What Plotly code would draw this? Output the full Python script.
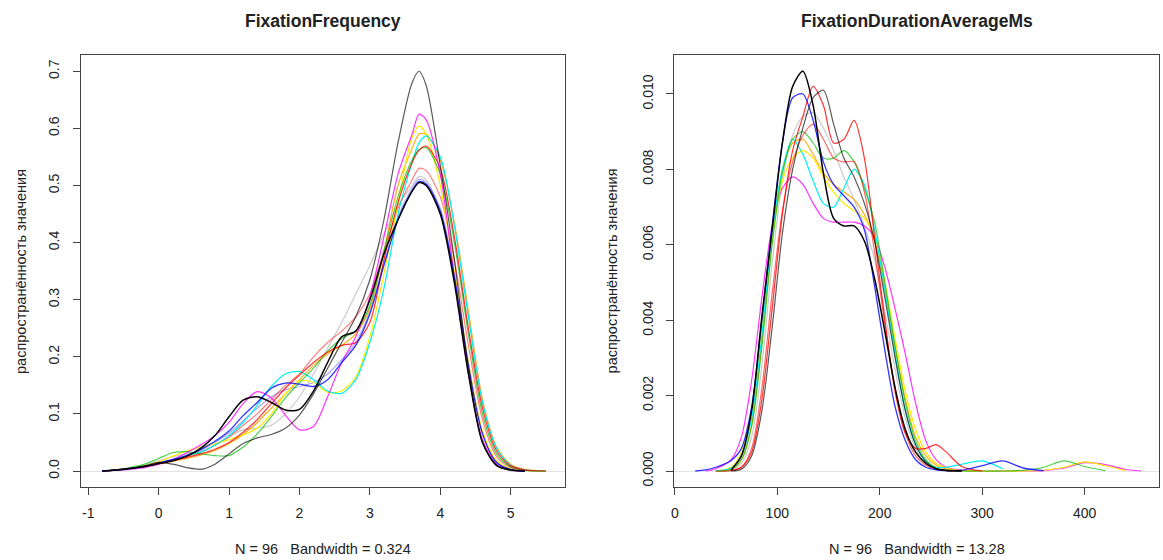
import plotly.graph_objects as go

W, H = 1163, 560
FONT = "Liberation Sans, Arial, sans-serif"
TXT = "#222222"
BOX = "#444444"

# ---------------- Left panel: FixationFrequency ----------------
xs_left = [-0.8, -0.5, -0.2, 0.0, 0.2, 0.4, 0.6, 0.8, 1.0, 1.2, 1.4, 1.6, 1.8, 2.0, 2.2,
           2.4, 2.6, 2.8, 3.0, 3.2, 3.4, 3.6, 3.7, 3.8, 4.0, 4.2, 4.4, 4.6, 4.8, 5.0, 5.2, 5.5]

ff_lightgrey = [0.0, 0.003, 0.010, 0.018, 0.025, 0.030, 0.035, 0.045, 0.060, 0.072, 0.075, 0.080, 0.100, 0.130, 0.170,
                0.215, 0.260, 0.310, 0.360, 0.415, 0.465, 0.500, 0.516, 0.510, 0.455, 0.340, 0.185, 0.065, 0.015, 0.003, 0.0, None]
ff_lavender = [0.0, 0.003, 0.009, 0.015, 0.021, 0.028, 0.037, 0.050, 0.066, 0.088, 0.110, 0.130, 0.142, 0.148, 0.155,
               0.170, 0.195, 0.225, 0.280, 0.365, 0.445, 0.495, 0.511, 0.505, 0.460, 0.345, 0.190, 0.068, 0.016, 0.003, 0.0, None]
ff_lightred = [0.0, 0.003, 0.008, 0.014, 0.020, 0.026, 0.033, 0.045, 0.060, 0.080, 0.100, 0.125, 0.150, 0.170, 0.200,
               0.225, 0.245, 0.270, 0.310, 0.385, 0.460, 0.510, 0.530, 0.526, 0.480, 0.370, 0.220, 0.090, 0.025, 0.006, 0.001, None]
ff_orange = [0.0, 0.003, 0.008, 0.012, 0.017, 0.022, 0.028, 0.036, 0.048, 0.064, 0.085, 0.110, 0.135, 0.160, 0.185,
             0.205, 0.220, 0.240, 0.285, 0.385, 0.500, 0.565, 0.590, 0.590, 0.545, 0.435, 0.280, 0.125, 0.042, 0.012, 0.003, 0.0]
ff_yellow = [0.0, 0.003, 0.009, 0.016, 0.026, 0.035, 0.042, 0.048, 0.055, 0.063, 0.075, 0.100, 0.135, 0.158, 0.155,
             0.138, 0.140, 0.165, 0.235, 0.345, 0.470, 0.585, 0.604, 0.590, 0.500, 0.350, 0.190, 0.070, 0.018, 0.004, 0.001, 0.0]
ff_cyan = [0.0, 0.002, 0.007, 0.013, 0.020, 0.027, 0.033, 0.045, 0.062, 0.085, 0.115, 0.148, 0.170, 0.174, 0.160,
           0.140, 0.136, 0.160, 0.225, 0.320, 0.450, 0.540, 0.575, 0.587, 0.550, 0.430, 0.270, 0.120, 0.040, 0.010, 0.002, 0.0]
ff_green = [0.0, 0.004, 0.012, 0.022, 0.032, 0.034, 0.030, 0.027, 0.027, 0.042, 0.065, 0.095, 0.128, 0.155, 0.180,
            0.210, 0.232, 0.245, 0.290, 0.385, 0.480, 0.545, 0.563, 0.566, 0.520, 0.400, 0.240, 0.100, 0.030, 0.007, 0.001, 0.0]
ff_red = [0.0, 0.003, 0.008, 0.013, 0.018, 0.024, 0.030, 0.038, 0.050, 0.068, 0.090, 0.118, 0.145, 0.168, 0.190,
          0.208, 0.220, 0.225, 0.260, 0.370, 0.470, 0.540, 0.562, 0.569, 0.530, 0.410, 0.250, 0.110, 0.035, 0.009, 0.002, 0.0]
ff_magenta = [0.0, 0.002, 0.006, 0.012, 0.020, 0.032, 0.046, 0.062, 0.085, 0.118, 0.139, 0.128, 0.098, 0.072, 0.078,
              0.130, 0.190, 0.235, 0.305, 0.410, 0.520, 0.590, 0.625, 0.615, 0.520, 0.340, 0.170, 0.055, 0.012, 0.002, 0.0, None]
ff_blue = [0.0, 0.003, 0.008, 0.014, 0.020, 0.027, 0.038, 0.052, 0.070, 0.097, 0.120, 0.145, 0.154, 0.152, 0.148,
           0.160, 0.190, 0.220, 0.275, 0.360, 0.440, 0.490, 0.507, 0.502, 0.455, 0.340, 0.185, 0.065, 0.015, 0.003, 0.0, None]
ff_blackthin = [0.0, 0.003, 0.009, 0.015, 0.012, 0.006, 0.003, 0.012, 0.030, 0.048, 0.058, 0.064, 0.075, 0.098, 0.135,
                0.180, 0.225, 0.270, 0.335, 0.440, 0.575, 0.680, 0.700, 0.675, 0.535, 0.370, 0.180, 0.050, 0.009, 0.001, 0.0, None]
ff_black = [0.0, 0.003, 0.008, 0.013, 0.018, 0.026, 0.040, 0.062, 0.095, 0.124, 0.130, 0.120, 0.107, 0.108, 0.140,
            0.190, 0.235, 0.245, 0.300, 0.380, 0.440, 0.490, 0.505, 0.500, 0.450, 0.330, 0.170, 0.050, 0.010, 0.002, 0.0, None]

left_ticks = [-1, 0, 1, 2, 3, 4, 5]
left_yticks = [0.0, 0.1, 0.2, 0.3, 0.4, 0.5, 0.6, 0.7]
left_yticklabels = ["0.0", "0.1", "0.2", "0.3", "0.4", "0.5", "0.6", "0.7"]

# ---------------- Right panel: FixationDurationAverageMs ----------------
N = None
xs_right = [20, 30, 40, 55, 65, 75, 85, 95, 105, 115, 125, 135, 145, 155, 165, 175, 185, 195,
            205, 215, 225, 235, 245, 255, 265, 280, 300, 320, 340, 360, 380, 400, 420, 440, 455]

fd_lightgrey = [N, N, 0.0, 0.00002, 0.0002, 0.0009, 0.0028, 0.0055, 0.0077, 0.0089, 0.0094, 0.0095, 0.0091, 0.0085, 0.0078, 0.0072, 0.0065, 0.0056,
                0.0042, 0.0027, 0.0014, 0.0006, 0.0002, 0.00005, 0.00001, 0.0, N, N, N, N, N, N, N, N, N]
fd_orange = [N, N, 0.0, 0.00005, 0.0003, 0.0012, 0.0034, 0.0061, 0.0080, 0.0087, 0.0088, 0.0084, 0.0079, 0.0076, 0.0074, 0.0072, 0.0068, 0.0061,
             0.0048, 0.0033, 0.0019, 0.0009, 0.0004, 0.00015, 0.00005, 0.00001, 0.0, N, N, N, N, N, N, N, N]
fd_magenta = [N, 0.0, 0.00006, 0.0003, 0.0009, 0.0024, 0.0046, 0.0065, 0.0075, 0.0078, 0.0076, 0.0071, 0.0067, 0.0066, 0.0066, 0.0066, 0.0065, 0.0062,
              0.0054, 0.0043, 0.0031, 0.0018, 0.0008, 0.0003, 0.0001, 0.00002, 0.0, 0.0, 0.0, 0.00001, 0.00008, 0.00022, 0.00017, 0.00004, 0.0]
fd_yellow = [N, N, 0.0, 0.0001, 0.0005, 0.0016, 0.0038, 0.0062, 0.0077, 0.0083, 0.0085, 0.0083, 0.0078, 0.0074, 0.0071, 0.0069, 0.0067, 0.0062,
             0.0050, 0.0035, 0.0021, 0.0011, 0.0005, 0.0002, 0.00008, 0.00001, 0.0, 0.0, 0.0, 0.00002, 0.0001, 0.00024, 0.00014, 0.00001, N]
fd_cyan = [N, N, 0.0, 0.00008, 0.0004, 0.0014, 0.0036, 0.0063, 0.0080, 0.0088, 0.0084, 0.0077, 0.0071, 0.0070, 0.0075, 0.0080, 0.0076, 0.0064,
           0.0048, 0.0031, 0.0016, 0.0007, 0.00025, 0.0001, 0.0001, 0.00018, 0.00027, 0.00006, N, N, N, N, N, N, N]
fd_green = [N, N, 0.0, 0.00004, 0.0003, 0.0012, 0.0033, 0.0060, 0.0079, 0.0088, 0.0090, 0.0087, 0.0083, 0.0083, 0.0085, 0.0082, 0.0075, 0.0066,
            0.0050, 0.0033, 0.0018, 0.0008, 0.0003, 0.00008, 0.00001, 0.0, 0.0, 0.0, 0.00002, 0.0001, 0.00027, 0.00012, 0.00001, N, N]
fd_redlight = [N, N, 0.0, 0.00001, 0.0001, 0.0006, 0.0022, 0.0047, 0.0069, 0.0082, 0.0089, 0.0092, 0.0088, 0.0083, 0.0082, 0.0082, 0.0074, 0.0058,
               0.0039, 0.0022, 0.0010, 0.0004, 0.00015, 0.00004, 0.00001, 0.0, N, N, N, N, N, N, N, N, N]
fd_red = [N, N, N, 0.00001, 0.0001, 0.0005, 0.0019, 0.0043, 0.0068, 0.0085, 0.0094, 0.0102, 0.0097, 0.0087, 0.0088, 0.0093, 0.0083, 0.0062,
          0.0040, 0.0021, 0.0010, 0.0006, 0.0006, 0.0007, 0.0005, 0.00012, 0.0, N, N, N, N, N, N, N, N]
fd_blue = [0.0, 0.00003, 0.0001, 0.00028, 0.0006, 0.0017, 0.0040, 0.0065, 0.0087, 0.0099, 0.0100, 0.0093, 0.0082, 0.0076, 0.0073, 0.0070, 0.0064, 0.0049,
           0.0032, 0.0017, 0.0008, 0.0003, 0.0001, 0.00003, 0.00001, 0.00002, 0.00014, 0.00027, 0.00008, 0.00001, N, N, N, N, N]
fd_blackthin = [N, N, N, 0.0, 0.00005, 0.0004, 0.0016, 0.0038, 0.0063, 0.0080, 0.0091, 0.0099, 0.0101, 0.0092, 0.0083, 0.0078, 0.0071, 0.0061,
                0.0046, 0.0030, 0.0016, 0.0007, 0.00025, 0.00006, 0.00001, 0.0, N, N, N, N, N, N, N, N, N]
fd_black = [N, N, N, 0.00003, 0.0004, 0.0016, 0.0041, 0.0064, 0.0087, 0.0102, 0.0106, 0.0097, 0.0079, 0.0067, 0.0065, 0.0065, 0.0061, 0.0051,
            0.0037, 0.0022, 0.0011, 0.0005, 0.0002, 0.00006, 0.00002, 0.0, N, N, N, N, N, N, N, N, N]

right_ticks = [0, 100, 200, 300, 400]
right_yticks = [0.000, 0.002, 0.004, 0.006, 0.008, 0.010]
right_yticklabels = ["0.000", "0.002", "0.004", "0.006", "0.008", "0.010"]

titles = ["FixationFrequency", "FixationDurationAverageMs"]
subtitles = ["N = 96   Bandwidth = 0.324", "N = 96   Bandwidth = 13.28"]
ylabel = "распространённость значения"

# colours / widths (style, not data)
styles = {
    "lightgrey": ("rgba(160,160,160,0.55)", 1.2),
    "lavender": ("rgba(60,60,255,0.45)", 1.2),
    "lightred": ("rgba(255,0,0,0.5)", 1.2),
    "redlight": ("rgba(255,0,0,0.6)", 1.2),
    "orange": ("rgba(255,165,0,0.9)", 1.2),
    "yellow": ("rgba(255,235,0,1)", 1.2),
    "cyan": ("rgba(0,240,240,1)", 1.2),
    "green": ("rgba(0,190,0,0.7)", 1.2),
    "red": ("rgba(255,0,0,0.8)", 1.2),
    "magenta": ("rgba(255,0,255,0.8)", 1.2),
    "blue": ("rgba(0,0,255,0.8)", 1.3),
    "blackthin": ("rgba(0,0,0,0.65)", 1.2),
    "black": ("rgba(0,0,0,1)", 1.5),
}

left_series = [("lightgrey", ff_lightgrey), ("lavender", ff_lavender), ("lightred", ff_lightred),
               ("orange", ff_orange), ("yellow", ff_yellow), ("cyan", ff_cyan), ("green", ff_green),
               ("red", ff_red), ("magenta", ff_magenta), ("blue", ff_blue), ("blackthin", ff_blackthin),
               ("black", ff_black)]
right_series = [("lightgrey", fd_lightgrey), ("orange", fd_orange), ("magenta", fd_magenta),
                ("yellow", fd_yellow), ("cyan", fd_cyan), ("green", fd_green), ("redlight", fd_redlight),
                ("red", fd_red), ("blue", fd_blue), ("blackthin", fd_blackthin), ("black", fd_black)]

fig = go.Figure()
for key, ys in left_series:
    c, w = styles[key]
    fig.add_trace(go.Scatter(x=xs_left, y=ys, mode="lines", xaxis="x", yaxis="y",
                             line=dict(color=c, width=w, shape="spline", smoothing=0.8),
                             showlegend=False, hoverinfo="skip"))
for key, ys in right_series:
    c, w = styles[key]
    fig.add_trace(go.Scatter(x=xs_right, y=ys, mode="lines", xaxis="x2", yaxis="y2",
                             line=dict(color=c, width=w, shape="spline", smoothing=0.8),
                             showlegend=False, hoverinfo="skip"))

ybot, ytop = 55, 487
ydom = [(H - ytop) / H, (H - ybot) / H]
L1, R1 = 78, 563
L2, R2 = 673, 1159

axis_common = dict(showline=True, mirror=True, linecolor=BOX, linewidth=1, ticks="outside",
                   ticklen=7, tickcolor=BOX, tickwidth=1, showgrid=False,
                   tickfont=dict(family=FONT, size=14, color=TXT))

fig.update_layout(
    width=W, height=H, margin=dict(l=0, r=0, t=0, b=0),
    paper_bgcolor="white", plot_bgcolor="white",
    xaxis=dict(domain=[L1 / W, R1 / W], range=[-1.105, 5.765], tickvals=left_ticks,
               ticktext=[str(t) for t in left_ticks], zeroline=False, anchor="y",
               ticklabelstandoff=6, **axis_common),
    yaxis=dict(domain=ydom, range=[-0.028, 0.7285], tickvals=left_yticks, ticktext=left_yticklabels,
               tickangle=-90, zeroline=True, zerolinecolor="#e4e4e4", zerolinewidth=1, anchor="x",
               ticklabelstandoff=8, **axis_common),
    xaxis2=dict(domain=[L2 / W, R2 / W], range=[-0.5, 472.5], tickvals=right_ticks,
                ticktext=[str(t) for t in right_ticks], zeroline=False, anchor="y2",
                ticklabelstandoff=6, **axis_common),
    yaxis2=dict(domain=ydom, range=[-0.000424, 0.011034], tickvals=right_yticks,
                ticktext=right_yticklabels, tickangle=-90, zeroline=True, zerolinecolor="#e4e4e4",
                zerolinewidth=1, anchor="x2", ticklabelstandoff=8, **axis_common),
)

ann = []
for (l, r), t, s, ylx in [((L1, R1), titles[0], subtitles[0], 18), ((L2, R2), titles[1], subtitles[1], 611)]:
    cx = (l + r) / 2 / W
    ann.append(dict(x=cx, y=1 - 21 / H, xref="paper", yref="paper", text="<b>" + t + "</b>",
                    showarrow=False, xanchor="center", yanchor="middle",
                    font=dict(family=FONT, size=17.5, color=TXT)))
    ann.append(dict(x=cx, y=1 - 549 / H, xref="paper", yref="paper", text=s.replace(" ", "\u00a0"),
                    showarrow=False, xanchor="center", yanchor="middle",
                    font=dict(family=FONT, size=14.5, color=TXT)))
    ann.append(dict(x=ylx / W, y=1 - 271 / H, xref="paper", yref="paper", text=ylabel, textangle=-90,
                    showarrow=False, xanchor="center", yanchor="middle",
                    font=dict(family=FONT, size=14.5, color=TXT)))
fig.update_layout(annotations=ann)

fig.write_html("out.html")
